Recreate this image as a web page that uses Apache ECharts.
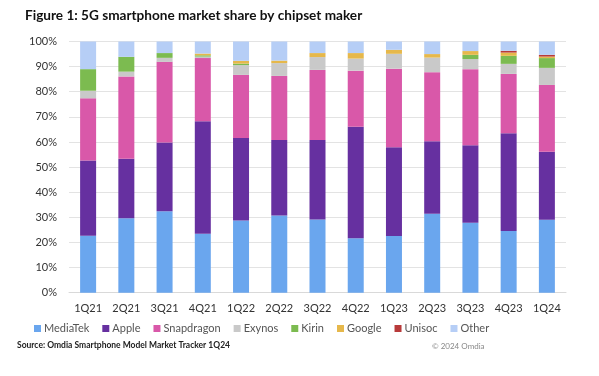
<!DOCTYPE html>
<html>
<head>
<meta charset="utf-8">
<script src="https://cdn.jsdelivr.net/npm/echarts@6/dist/echarts.min.js"></script>
<style>
  html, body { margin: 0; padding: 0; background: #fff; }
  #chart { width: 599px; height: 376px; }
</style>
</head>
<body>
<div id="chart"></div>
<script>
// quarters on the x axis
let quarters = ["1Q21", "2Q21", "3Q21", "4Q21", "1Q22", "2Q22", "3Q22", "4Q22", "1Q23", "2Q23", "3Q23", "4Q23", "1Q24"]

// share in % per chipset maker
let mediatek   = [22.7, 29.6, 32.4, 23.5, 28.7, 30.7, 29.1, 21.7, 22.6, 31.4, 27.8, 24.6, 29.0]
let apple      = [29.9, 23.7, 27.4, 44.8, 32.9, 30.1, 31.7, 44.4, 35.3, 28.9, 30.9, 38.9, 27.1]
let snapdragon = [24.8, 32.8, 32.1, 25.1, 25.1, 25.5, 27.9, 22.3, 31.3, 27.5, 30.3, 23.6, 26.6]
let exynos     = [3.0, 1.9, 1.6, 0.6, 3.9, 5.1, 5.1, 4.8, 5.9, 5.8, 4.0, 4.0, 6.8]
let kirin      = [8.6, 5.9, 1.9, 0.5, 0.6, 0, 0, 0, 0, 0, 1.7, 3.2, 3.9]
let google     = [0, 0, 0, 0.7, 1.1, 1.0, 1.6, 2.2, 1.6, 1.4, 1.5, 1.3, 0.6]
let unisoc     = [0, 0, 0, 0, 0, 0, 0, 0, 0, 0, 0, 0.7, 0.7]
let other      = [11.0, 6.1, 4.6, 4.8, 7.7, 7.6, 4.6, 4.6, 3.3, 5.0, 3.8, 3.7, 5.3]

let makers = [
    { name: "MediaTek", data: mediatek, color: "#6aa6ee" },
    { name: "Apple", data: apple, color: "#6630a0" },
    { name: "Snapdragon", data: snapdragon, color: "#d958a9" },
    { name: "Exynos", data: exynos, color: "#c9c9c9" },
    { name: "Kirin", data: kirin, color: "#7cbb50" },
    { name: "Google", data: google, color: "#e6b84b" },
    { name: "Unisoc", data: unisoc, color: "#b83a3a" },
    { name: "Other", data: other, color: "#b6cef6" }
]

let font = "Lato, 'Liberation Sans', sans-serif"

let myChart = echarts.init(document.getElementById("chart"))

let option = {
    animation: false,
    textStyle: { fontFamily: font },
    title: {
        text: "Figure 1: 5G smartphone market share by chipset maker",
        left: 20,
        top: 4,
        textStyle: { fontSize: 13.6, fontWeight: "bold", color: "#111", fontFamily: font }
    },
    grid: { left: 69, right: 33, top: 41.5, bottom: 83.3 },
    legend: {
        left: 29,
        top: 318,
        icon: "rect",
        itemWidth: 7,
        itemHeight: 7,
        itemGap: 13,
        textStyle: { fontSize: 11, color: "#555", padding: [0, 0, 0, -2] },
        data: makers.map(m => m.name)
    },
    xAxis: {
        type: "category",
        data: quarters,
        axisTick: { show: false },
        axisLine: { lineStyle: { color: "#d9d9d9" } },
        axisLabel: { color: "#333", fontSize: 11, margin: 10 }
    },
    yAxis: {
        type: "value",
        min: 0,
        max: 100,
        interval: 10,
        axisLabel: { formatter: "{value}%", color: "#333", fontSize: 11, margin: 12 },
        splitLine: { lineStyle: { color: "#e3e3e3" } }
    },
    graphic: [
        {
            type: "text",
            left: 17,
            top: 341,
            style: {
                text: "Source: Omdia Smartphone Model Market Tracker 1Q24",
                fontSize: 8.5,
                fontWeight: "bold",
                fill: "#222",
                fontFamily: font
            }
        },
        {
            type: "text",
            left: 432,
            top: 342,
            style: {
                text: "© 2024 Omdia",
                fontSize: 8,
                fill: "#888",
                fontFamily: font
            }
        }
    ],
    series: makers.map(m => ({
        name: m.name,
        type: "bar",
        stack: "share",
        barWidth: 16,
        data: m.data,
        itemStyle: { color: m.color }
    }))
}

myChart.setOption(option)
</script>
</body>
</html>
